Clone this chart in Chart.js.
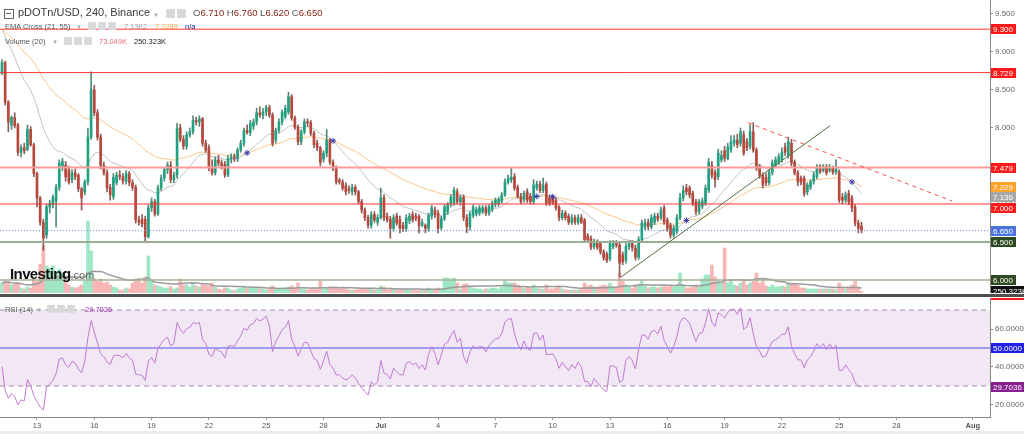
<!DOCTYPE html>
<html>
<head>
<meta charset="utf-8">
<script src="https://cdn.jsdelivr.net/npm/chart.js@4.4.1/dist/chart.umd.min.js"></script>
<style>
  html, body { margin:0; padding:0; background:#fff; }
  body { width:1024px; height:434px; position:relative; overflow:hidden; font-family:"Liberation Sans", Arial, sans-serif; }
  canvas { position:absolute; left:0; }
  #cA { top:0; }
  #cB { top:298px; }
  #sep { position:absolute; left:0; top:294px; width:1024px; height:3px; background:#4f4f4f; }
  #foot { position:absolute; left:0; top:431px; width:1024px; height:3px; background:#ececec; }
  .t { position:absolute; white-space:nowrap; line-height:9px; font-size:7.5px; color:#555; }
  .b { position:absolute; width:8px; height:8px; background:#d9d9d9; border-radius:1px; }
  .car { position:absolute; font-size:6px; color:#aaa; line-height:8px; }
</style>
</head>
<body>
<canvas id="cA" width="1024" height="293"></canvas>
<div id="sep"></div>
<canvas id="cB" width="1024" height="136"></canvas>
<div id="foot"></div>

<!-- legend line 1 -->
<div style="position:absolute;left:4px;top:9px;width:8px;height:8px;border:1px solid #666;"></div>
<div style="position:absolute;left:6px;top:13px;width:5px;height:1px;background:#666;"></div>
<div class="t" style="left:18px;top:6px;font-size:11px;line-height:13px;color:#3a3a3a;">pDOTn/USD, 240, Binance</div>
<div class="car" style="left:153px;top:11px;">▼</div>
<div class="b" style="left:166px;top:9px;width:9px;height:9px;"></div>
<div class="b" style="left:177px;top:9px;width:9px;height:9px;"></div>
<div class="t" style="left:193px;top:7px;font-size:9.5px;line-height:12px;color:#555;">O<span style="color:#8a2214">6.710</span>&nbsp;H<span style="color:#8a2214">6.760</span>&nbsp;L<span style="color:#8a2214">6.620</span>&nbsp;C<span style="color:#8a2214">6.650</span></div>

<!-- legend line 2 -->
<div class="t" style="left:5px;top:22px;">EMA Cross (21, 55)</div>
<div class="car" style="left:76px;top:23px;">▼</div>
<div class="b" style="left:88px;top:22px;"></div>
<div class="b" style="left:98px;top:22px;"></div>
<div class="b" style="left:108px;top:22px;"></div>
<div class="t" style="left:124px;top:22px;color:#9a9a9a;">7.1362</div>
<div class="t" style="left:155px;top:22px;color:#f5a23a;">7.2289</div>
<div class="t" style="left:185px;top:22px;color:#23238e;">n/a</div>

<!-- legend line 3 -->
<div class="t" style="left:5px;top:37px;">Volume (20)</div>
<div class="car" style="left:52px;top:38px;">▼</div>
<div class="b" style="left:64px;top:37px;"></div>
<div class="b" style="left:74px;top:37px;"></div>
<div class="b" style="left:84px;top:37px;"></div>
<div class="t" style="left:99px;top:37px;color:#ee6b6b;">73.049K</div>
<div class="t" style="left:134px;top:37px;color:#222;">250.323K</div>

<!-- RSI legend -->
<div class="t" style="left:5px;top:305px;">RSI (14)</div>
<div class="car" style="left:36px;top:306px;">▼</div>
<div class="b" style="left:47px;top:305px;"></div>
<div class="b" style="left:57px;top:305px;"></div>
<div class="b" style="left:67px;top:305px;"></div>
<div class="t" style="left:85px;top:305px;color:#9a35b2;">29.7036</div>

<!-- watermark -->
<div style="position:absolute;left:10px;top:265px;white-space:nowrap;line-height:18px;">
  <span style="font:bold 15px 'Liberation Sans',Arial;color:#111;letter-spacing:-0.6px;">Investing</span><span style="font:11px 'Liberation Sans',Arial;color:#666;">.com</span>
</div>

<script>
// ================= DATA =================
// 4-hour candles, time measured in "day of June" units (Jul 1 = 31, Aug 1 = 62)
const candleStartDay = 11 + 4 / 24;   // first candle: Jun 11, 04:00
const candleStepDay = 1 / 6;          // 4 hours

const opens = [
  8.72,8.86,8.34,8.04,8.14,8.04,7.68,7.74,7.72,7.98,
  7.78,7.40,7.08,6.76,6.59,6.96,6.99,7.04,7.22,7.50,
  7.51,7.45,7.32,7.41,7.38,7.20,7.16,7.29,7.88,8.50,
  8.20,7.88,7.51,7.41,7.22,7.10,7.28,7.38,7.36,7.30,
  7.40,7.28,7.22,6.79,6.80,6.80,6.57,6.95,7.03,6.87,
  7.21,7.34,7.45,7.51,7.32,7.38,8.00,7.85,7.76,7.91,
  7.95,8.10,8.08,8.12,7.80,7.74,7.47,7.41,7.58,7.54,
  7.52,7.38,7.60,7.62,7.60,7.71,7.80,7.97,7.94,8.02,
  8.08,8.20,8.17,8.21,8.27,8.17,7.84,7.97,8.08,8.15,
  8.21,8.41,8.13,8.01,7.82,7.95,8.08,8.07,7.93,7.80,
  7.74,7.59,7.67,7.84,7.55,7.47,7.31,7.29,7.24,7.20,
  7.16,7.22,7.16,7.03,6.92,6.82,6.72,6.86,6.76,6.82,
  7.08,6.84,6.80,6.68,6.84,6.80,6.72,6.68,6.78,6.86,
  6.84,6.84,6.72,6.72,6.68,6.84,6.92,6.88,6.69,6.81,
  6.90,7.00,7.02,7.16,7.03,7.09,6.82,6.70,6.85,6.87,
  6.88,6.90,6.95,6.88,6.93,7.00,7.00,7.04,7.12,7.29,
  7.32,7.36,7.22,7.10,7.06,7.16,7.10,7.03,7.21,7.26,
  7.18,7.26,7.08,7.08,7.05,6.96,6.82,6.88,6.84,6.76,
  6.82,6.76,6.82,6.79,6.58,6.55,6.44,6.50,6.48,6.37,
  6.34,6.28,6.44,6.48,6.46,6.33,6.26,6.44,6.48,6.42,
  6.30,6.53,6.70,6.76,6.70,6.76,6.84,6.82,6.95,6.79,
  6.72,6.59,6.64,6.82,7.08,7.21,7.21,7.14,7.03,6.90,
  6.97,7.01,7.18,7.51,7.42,7.36,7.58,7.70,7.60,7.71,
  7.80,7.84,7.80,7.91,7.82,7.76,7.95,7.71,7.49,7.38,
  7.35,7.28,7.42,7.51,7.55,7.58,7.75,7.64,7.80,7.55,
  7.41,7.34,7.34,7.16,7.22,7.29,7.36,7.49,7.45,7.49,
  7.45,7.47,7.42,7.42,7.09,7.05,7.14,7.08,6.96,6.75,
  6.71
];
const highs = [
  8.90,8.88,8.36,8.16,8.20,8.06,7.78,7.80,8.04,8.02,
  7.80,7.42,7.10,6.80,7.00,7.05,7.12,7.26,7.58,7.60,
  7.56,7.50,7.45,7.46,7.40,7.22,7.32,8.00,8.74,8.56,
  8.24,7.92,7.55,7.45,7.26,7.40,7.42,7.44,7.40,7.44,
  7.43,7.32,7.25,6.84,6.86,6.84,6.99,7.08,7.06,7.25,
  7.38,7.48,7.55,7.56,7.42,8.06,8.05,7.90,7.95,8.00,
  8.16,8.14,8.16,8.14,7.84,7.78,7.58,7.62,7.64,7.58,
  7.56,7.64,7.66,7.66,7.74,7.84,8.00,8.04,8.10,8.12,
  8.26,8.28,8.26,8.30,8.30,8.20,8.00,8.12,8.24,8.30,
  8.47,8.44,8.16,8.04,7.98,8.12,8.12,8.10,7.96,7.84,
  7.76,7.70,7.98,7.86,7.58,7.50,7.34,7.32,7.28,7.24,
  7.26,7.25,7.18,7.06,6.95,6.85,6.90,6.90,6.86,7.21,
  7.12,6.88,6.84,6.86,6.88,6.84,6.76,6.86,6.88,6.90,
  6.88,6.86,6.80,6.74,6.88,6.98,6.96,6.92,6.84,6.99,
  7.02,7.12,7.22,7.20,7.12,7.12,6.86,6.90,6.99,6.96,
  6.98,6.98,6.98,6.99,7.04,7.08,7.09,7.15,7.33,7.38,
  7.47,7.40,7.25,7.14,7.17,7.20,7.14,7.32,7.30,7.30,
  7.34,7.29,7.12,7.11,7.08,6.98,6.92,6.91,6.87,6.86,
  6.85,6.86,6.86,6.81,6.61,6.58,6.54,6.53,6.51,6.40,
  6.37,6.52,6.52,6.52,6.50,6.37,6.48,6.52,6.52,6.46,
  6.57,6.79,6.80,6.80,6.86,6.88,6.88,6.96,6.98,6.82,
  6.75,6.72,6.86,7.14,7.24,7.26,7.24,7.17,7.06,7.06,
  7.08,7.25,7.60,7.56,7.45,7.72,7.70,7.76,7.80,7.90,
  7.90,7.92,8.00,7.96,7.86,8.04,8.07,7.74,7.52,7.41,
  7.40,7.45,7.58,7.62,7.66,7.74,7.80,7.88,7.85,7.58,
  7.44,7.37,7.37,7.28,7.32,7.42,7.52,7.52,7.52,7.52,
  7.52,7.50,7.58,7.45,7.14,7.16,7.18,7.11,6.99,6.79,
  6.76
];
const lows = [
  8.70,8.30,7.95,7.98,8.00,7.64,7.62,7.66,7.70,7.76,
  7.36,6.96,6.72,6.39,6.55,6.88,6.95,6.70,7.18,7.44,
  7.30,7.26,7.28,7.32,7.16,6.92,7.12,7.25,7.85,8.16,
  7.84,7.46,7.38,7.16,7.05,7.06,7.25,7.32,7.26,7.26,
  7.24,7.18,6.75,6.72,6.70,6.49,6.55,6.90,6.84,6.85,
  7.18,7.30,7.40,7.28,7.28,7.34,7.82,7.72,7.72,7.88,
  7.92,8.04,8.02,7.76,7.68,7.44,7.38,7.38,7.50,7.46,
  7.35,7.36,7.54,7.56,7.56,7.68,7.76,7.92,7.90,7.98,
  8.04,8.14,8.12,8.16,8.14,7.76,7.80,7.94,8.04,8.12,
  8.18,8.10,7.98,7.78,7.78,7.92,8.02,7.90,7.74,7.70,
  7.50,7.55,7.62,7.52,7.44,7.26,7.26,7.18,7.12,7.14,
  7.12,7.12,7.00,6.88,6.78,6.68,6.68,6.76,6.72,6.80,
  6.78,6.76,6.55,6.64,6.72,6.62,6.64,6.64,6.74,6.76,
  6.78,6.62,6.70,6.62,6.64,6.80,6.82,6.62,6.66,6.78,
  6.86,6.96,6.98,7.00,6.98,6.78,6.62,6.66,6.82,6.84,
  6.85,6.87,6.85,6.85,6.90,6.96,6.97,7.01,7.10,7.26,
  7.28,7.18,7.08,7.00,7.02,7.02,7.00,7.00,7.18,7.15,
  7.15,6.98,6.98,6.99,6.92,6.78,6.79,6.79,6.73,6.73,
  6.73,6.73,6.74,6.50,6.50,6.40,6.41,6.40,6.34,6.26,
  6.23,6.25,6.41,6.43,6.04,6.20,6.22,6.40,6.38,6.26,
  6.27,6.50,6.66,6.66,6.67,6.73,6.77,6.79,6.73,6.64,
  6.55,6.56,6.61,6.79,7.04,7.12,7.08,6.98,6.86,6.87,
  6.94,6.98,7.15,7.34,7.22,7.32,7.55,7.56,7.58,7.68,
  7.76,7.74,7.76,7.64,7.70,7.72,7.68,7.44,7.34,7.21,
  7.24,7.25,7.38,7.48,7.52,7.55,7.64,7.60,7.50,7.38,
  7.24,7.25,7.10,7.12,7.19,7.26,7.33,7.40,7.42,7.38,
  7.42,7.39,7.39,7.02,7.00,7.02,6.99,6.90,6.71,6.62,
  6.62
];
const closes = [
  8.86,8.34,8.08,8.14,8.03,7.68,7.74,7.70,7.98,7.78,
  7.40,7.08,6.76,6.55,6.96,7.01,7.09,7.22,7.54,7.56,
  7.36,7.29,7.41,7.36,7.20,7.08,7.29,7.88,8.50,8.20,
  7.88,7.51,7.41,7.21,7.12,7.35,7.38,7.36,7.30,7.40,
  7.28,7.22,6.79,6.76,6.74,6.57,6.95,7.03,6.87,7.21,
  7.34,7.45,7.51,7.32,7.38,8.00,7.85,7.76,7.91,7.95,
  8.10,8.08,8.12,7.80,7.71,7.47,7.41,7.58,7.54,7.50,
  7.38,7.60,7.62,7.60,7.71,7.80,7.97,7.94,8.06,8.08,
  8.20,8.17,8.21,8.27,8.17,7.80,7.97,8.08,8.21,8.26,
  8.41,8.13,8.01,7.82,7.95,8.08,8.07,7.93,7.78,7.74,
  7.55,7.67,7.84,7.55,7.47,7.29,7.29,7.21,7.16,7.18,
  7.22,7.16,7.03,6.92,6.82,6.72,6.86,6.79,6.82,7.08,
  6.82,6.79,6.68,6.82,6.75,6.68,6.68,6.82,6.84,6.79,
  6.81,6.72,6.76,6.68,6.85,6.95,6.86,6.68,6.81,6.96,
  6.99,7.09,7.18,7.03,7.09,6.82,6.70,6.87,6.96,6.93,
  6.95,6.95,6.88,6.96,7.01,7.05,7.06,7.12,7.29,7.34,
  7.35,7.21,7.10,7.03,7.14,7.05,7.03,7.25,7.26,7.18,
  7.25,7.01,7.01,7.02,6.95,6.82,6.88,6.82,6.76,6.82,
  6.76,6.82,6.76,6.53,6.53,6.43,6.50,6.43,6.37,6.29,
  6.26,6.48,6.48,6.46,6.22,6.24,6.44,6.48,6.42,6.30,
  6.53,6.75,6.75,6.70,6.82,6.84,6.80,6.92,6.76,6.68,
  6.59,6.68,6.82,7.08,7.18,7.16,7.12,7.01,6.90,7.03,
  7.04,7.21,7.55,7.38,7.32,7.67,7.64,7.60,7.75,7.82,
  7.84,7.78,7.95,7.67,7.74,7.95,7.71,7.47,7.38,7.25,
  7.28,7.42,7.54,7.58,7.62,7.68,7.68,7.82,7.54,7.41,
  7.29,7.29,7.14,7.25,7.29,7.38,7.49,7.43,7.49,7.41,
  7.49,7.42,7.47,7.05,7.05,7.12,7.03,6.95,6.75,6.68,
  6.65
];
// volume in thousands
const volumesK = [
  500,600,550,400,450,500,250,200,300,250,
  750,600,1450,2350,1350,1250,1350,1000,1200,1000,
  700,400,300,250,300,400,600,3600,2100,700,
  600,700,500,550,400,300,250,150,150,250,
  200,500,700,700,500,800,1850,600,400,350,
  300,250,250,300,200,250,700,400,400,300,
  500,350,300,450,400,350,500,300,200,150,
  250,250,150,120,200,250,350,250,300,250,
  300,200,200,150,200,350,250,200,250,200,
  300,350,250,500,200,200,150,200,250,200,
  600,200,250,300,250,300,200,250,200,150,
  150,150,250,200,200,250,200,150,150,350,
  300,150,250,200,150,200,150,200,150,150,
  120,150,120,150,250,200,150,250,200,750,
  750,700,750,500,200,450,450,300,250,200,
  200,150,200,200,250,250,200,300,600,500,
  500,500,400,300,250,300,250,400,250,200,
  200,400,200,200,250,350,200,150,150,150,
  150,150,200,500,350,400,300,300,350,400,
  350,500,300,250,1000,600,400,300,250,400,
  450,600,350,250,300,300,250,300,350,300,
  350,300,400,1000,400,250,250,300,350,300,
  700,900,900,1400,800,600,500,2250,500,600,
  400,350,500,600,400,500,600,1000,500,600,
  350,300,400,300,300,350,300,500,500,450,
  400,250,250,200,200,200,200,200,200,200,
  200,200,150,500,250,200,300,400,600,300,
  73.049
];

// horizontal levels drawn on the chart
const levelValues = [9.300, 8.729, 7.479, 7.000, 6.650, 6.500, 6.000];
// trend lines (day, price)
const trendUpDays = [43.58, 54.52];
const trendUpPrices = [6.04, 8.03];
const trendDownDays = [50.23, 60.90];
const trendDownPrices = [8.07, 7.04];

// axis ticks
const xTickDays = [13, 16, 19, 22, 25, 28, 31, 34, 37, 40, 43, 46, 49, 52, 55, 58, 62];
const xTickLabels = ['13','16','19','22','25','28','Jul','4','7','10','13','16','19','22','25','28','Aug'];
const priceTicks = [6.0, 6.5, 7.0, 7.5, 8.0, 8.5, 9.0, 9.5];
const rsiTicks = [20, 30, 40, 50, 60];
const rsiBandValues = [70, 50, 30];

// right-axis value tags
const priceTagValues = [9.300, 8.729, 7.479, 7.229, 7.136, 7.000, 6.650, 6.500, 6.000];
const priceTagTexts  = ['9.300','8.729','7.479','7.229','7.136','7.000','6.650','6.500','6.000'];
const volumeTagValue = 250.323;
const volumeTagText = '250.323K';
const rsiTagValues = [77.8, 50, 29.7036];
const rsiTagTexts  = ['70.0202','50.0000','29.7036'];

// indicator settings (from legend) and starting states read at the left edge
const emaFastLen = 21, emaSlowLen = 55, volMaLen = 20, rsiLen = 14;
const emaFastStart = 9.30, emaSlowStart = 9.30;
const rsiStartAvgGain = 0.035, rsiStartAvgLoss = 0.052;

// ================= VIEW / STYLE =================
const X_MIN = 11.063, X_MAX = 62.895;
const PRICE_MIN = 5.829, PRICE_MAX = 9.684;
const VOL_MAX = 14650;
const RSI_MIN = 13.684, RSI_MAX = 76.316;
const AXIS_W = 34;
const FONT = '"Liberation Sans", Arial, sans-serif';
const TAG_H = 10, TAG_GAP = 10.5;

const levelColors = ['#ff3535', '#ff3535', '#ff9a9a', '#ff3535', '#6f8fe6', '#9cae92', '#a3b398'];
const levelWidths = [1, 1, 2, 1, 1, 2, 1.5];
const levelDash   = [[], [], [], [], [1, 2], [], []];
const priceTagBg  = ['#ff1a1a','#ff1a1a','#ff1a1a','#ffa32b','#a8a8a8','#ff1a1a','#4a74dc','#2e4a20','#2e4a20'];
const rsiTagBg    = ['#ff1a1a','#1f1fe8','#86208f'];
const UP = '#20a181', DOWN = '#b8473c';
const UP_WICK = '#4f8c78', DOWN_WICK = '#8d5a55';
const VOL_UP = '#9fe6c6', VOL_DOWN = '#f8b6b6';

// ================= INDICATORS (EMA cross, volume SMA, RSI) =================
const N = closes.length;
const times = closes.map((_, i) => candleStartDay + i * candleStepDay);

function ema(src, len, start) {
  const a = 2 / (len + 1); const out = []; let e = start;
  for (let i = 0; i < src.length; i++) { if (i > 0) e = a * src[i] + (1 - a) * e; out.push(e); }
  return out;
}
function sma(src, len) {
  const out = [];
  for (let i = 0; i < src.length; i++) {
    const s = Math.max(0, i - len + 1); let sum = 0;
    for (let k = s; k <= i; k++) sum += src[k];
    out.push(sum / (i - s + 1));
  }
  return out;
}
function rsi(src, len, g0, l0) {
  const out = []; let ag = g0, al = l0;
  out.push(100 - 100 / (1 + ag / al));
  for (let i = 1; i < src.length; i++) {
    const d = src[i] - src[i - 1];
    ag = (ag * (len - 1) + Math.max(d, 0)) / len;
    al = (al * (len - 1) + Math.max(-d, 0)) / len;
    out.push(al === 0 ? 100 : 100 - 100 / (1 + ag / al));
  }
  return out;
}
const emaFast = ema(closes, emaFastLen, emaFastStart);
const emaSlow = ema(closes, emaSlowLen, emaSlowStart);
const volMa = sma(volumesK, volMaLen);
const rsiVals = rsi(closes, rsiLen, rsiStartAvgGain, rsiStartAvgLoss);
const crossPts = [];
for (let i = 2; i < N; i++) {
  const a = emaFast[i - 1] - emaSlow[i - 1], b = emaFast[i] - emaSlow[i];
  if ((a < 0 && b >= 0) || (a > 0 && b <= 0)) crossPts.push({ x: times[i], y: (emaFast[i] + emaSlow[i]) / 2 });
}

// ================= HELPERS =================
function fitY(s) { s.width = AXIS_W; s.paddingTop = 0; s.paddingBottom = 0; }
function hLine(v) { return [{ x: X_MIN, y: v }, { x: X_MAX, y: v }]; }
// tags: [{scale, value, text, bg, full}] -> laid out top-to-bottom without overlap
function drawTags(chart, tags) {
  const { ctx, chartArea } = chart;
  const items = tags.map(t => Object.assign({}, t, { y: chart.scales[t.scale].getPixelForValue(t.value) }))
                    .sort((a, b) => a.y - b.y);
  for (let k = 1; k < items.length; k++) {
    if (items[k].y < items[k - 1].y + TAG_GAP) items[k].y = items[k - 1].y + TAG_GAP;
  }
  ctx.save();
  ctx.font = '8px ' + FONT;
  ctx.textBaseline = 'middle'; ctx.textAlign = 'left';
  const x0 = Math.round(chartArea.right) + 1;
  items.forEach(it => {
    const y = Math.round(it.y);
    const w = it.full ? (chart.width - x0) : Math.ceil(ctx.measureText(it.text).width) + 4;
    ctx.fillStyle = it.bg; ctx.fillRect(x0, y - TAG_H / 2, w, TAG_H);
    ctx.fillStyle = '#fff'; ctx.fillText(it.text, x0 + 2, y + 0.5);
  });
  ctx.restore();
}
const baseOpts = {
  responsive: false, animation: false, devicePixelRatio: 1, events: [],
  layout: { padding: 0, autoPadding: false },
  plugins: { legend: { display: false }, tooltip: { enabled: false } },
  elements: { point: { radius: 0 } }
};

// ================= PRICE + VOLUME CHART =================
const dsA = [];
levelValues.forEach((v, k) => dsA.push({
  type: 'line', data: hLine(v), borderColor: levelColors[k], borderWidth: levelWidths[k],
  borderDash: levelDash[k], pointRadius: 0, order: 3, yAxisID: 'y'
}));
dsA.push({ type: 'line', data: trendUpDays.map((d, k) => ({ x: d, y: trendUpPrices[k] })),
  borderColor: '#52703c', borderWidth: 1, pointRadius: 0, order: 2, yAxisID: 'y' });
dsA.push({ type: 'line', data: trendDownDays.map((d, k) => ({ x: d, y: trendDownPrices[k] })),
  borderColor: '#ff4a4a', borderWidth: 1, borderDash: [4, 4], pointRadius: 0, order: 2, yAxisID: 'y' });
dsA.push({ type: 'scatter', data: crossPts, pointStyle: 'star', pointRadius: 3,
  borderColor: '#3b3bab', backgroundColor: '#3b3bab', borderWidth: 1, order: 1, yAxisID: 'y' });
dsA.push({ type: 'line', data: times.map((t, i) => ({ x: t, y: emaSlow[i] })),
  borderColor: '#f9c58c', borderWidth: 1, pointRadius: 0, order: 8, yAxisID: 'y' });
dsA.push({ type: 'line', data: times.map((t, i) => ({ x: t, y: emaFast[i] })),
  borderColor: '#c2c2c2', borderWidth: 1, pointRadius: 0, order: 7, yAxisID: 'y' });
dsA.push({ type: 'bar', data: times.map((t, i) => ({ x: t, y: [lows[i], highs[i]] })),
  backgroundColor: closes.map((c, i) => c >= opens[i] ? UP_WICK : DOWN_WICK),
  barThickness: 1, grouped: false, order: 6, yAxisID: 'y' });
dsA.push({ type: 'bar', data: times.map((t, i) => ({ x: t, y: [opens[i], closes[i]] })),
  backgroundColor: closes.map((c, i) => c >= opens[i] ? UP : DOWN),
  barThickness: 2, minBarLength: 1, grouped: false, order: 5, yAxisID: 'y' });
dsA.push({ type: 'line', data: times.map((t, i) => ({ x: t, y: volMa[i] })),
  borderColor: '#9b9b9b', borderWidth: 1.5, pointRadius: 0, order: 9, yAxisID: 'yV' });
dsA.push({ type: 'bar', data: times.map((t, i) => ({ x: t, y: volumesK[i] })),
  backgroundColor: closes.map((c, i) => c >= opens[i] ? VOL_UP : VOL_DOWN),
  barThickness: 3, grouped: false, order: 10, yAxisID: 'yV' });

new Chart(document.getElementById('cA'), {
  type: 'line',
  data: { datasets: dsA },
  options: Object.assign({}, baseOpts, {
    scales: {
      x: { type: 'linear', min: X_MIN, max: X_MAX, offset: false, display: false },
      y: {
        type: 'linear', position: 'right', min: PRICE_MIN, max: PRICE_MAX,
        afterBuildTicks: s => { s.ticks = priceTicks.map(v => ({ value: v })); },
        afterFit: fitY,
        ticks: { callback: v => Number(v).toFixed(3), font: { size: 8, family: FONT }, color: '#666', padding: 2 },
        grid: { drawOnChartArea: false, tickLength: 3, color: '#888' },
        border: { color: '#888' }
      },
      yV: { type: 'linear', display: false, min: 0, max: VOL_MAX }
    }
  }),
  plugins: [{
    id: 'tagsA',
    afterDraw(chart) {
      const tags = priceTagValues.map((v, k) => ({ scale: 'y', value: v, text: priceTagTexts[k], bg: priceTagBg[k], full: false }));
      tags.push({ scale: 'yV', value: volumeTagValue, text: volumeTagText, bg: '#111', full: true });
      drawTags(chart, tags);
    }
  }]
});

// ================= RSI CHART =================
const dsB = [
  { type: 'line', data: hLine(rsiBandValues[0]), borderColor: '#9e90a2', borderWidth: 1, borderDash: [5, 4], pointRadius: 0, fill: false, order: 4 },
  { type: 'line', data: hLine(rsiBandValues[2]), borderColor: '#9e90a2', borderWidth: 1, borderDash: [5, 4], pointRadius: 0,
    fill: { target: 0 }, backgroundColor: 'rgba(145,55,165,0.12)', order: 4 },
  { type: 'line', data: hLine(rsiBandValues[1]), borderColor: '#5252e8', borderWidth: 1, pointRadius: 0, fill: false, order: 3 },
  { type: 'line', data: times.map((t, i) => ({ x: t, y: rsiVals[i] })), borderColor: '#c07ad2', borderWidth: 1, pointRadius: 0, fill: false, order: 1 }
];
new Chart(document.getElementById('cB'), {
  type: 'line',
  data: { datasets: dsB },
  options: Object.assign({}, baseOpts, {
    scales: {
      x: {
        type: 'linear', min: X_MIN, max: X_MAX, offset: false, position: 'bottom',
        afterBuildTicks: s => { s.ticks = xTickDays.map(v => ({ value: v })); },
        afterFit: s => { s.height = 17; s.paddingLeft = 0; s.paddingRight = 0; },
        ticks: {
          autoSkip: false, maxRotation: 0, padding: 1, color: '#555',
          callback: (v, i) => xTickLabels[i],
          font: ctx => ({ size: 7.5, family: FONT, weight: (xTickLabels[ctx.index] === 'Jul' || xTickLabels[ctx.index] === 'Aug') ? 'bold' : 'normal' })
        },
        grid: { drawOnChartArea: false, tickLength: 3, color: '#999' },
        border: { color: '#888' }
      },
      y: {
        type: 'linear', position: 'right', min: RSI_MIN, max: RSI_MAX,
        afterBuildTicks: s => { s.ticks = rsiTicks.map(v => ({ value: v })); },
        afterFit: fitY,
        ticks: { callback: v => Number(v).toFixed(4), font: { size: 8, family: FONT }, color: '#666', padding: 2 },
        grid: { drawOnChartArea: false, tickLength: 3, color: '#888' },
        border: { color: '#888' }
      }
    }
  }),
  plugins: [{
    id: 'tagsB',
    afterDraw(chart) {
      drawTags(chart, rsiTagValues.map((v, k) => ({ scale: 'y', value: v, text: rsiTagTexts[k], bg: rsiTagBg[k], full: false })));
    }
  }]
});
</script>
</body>
</html>
